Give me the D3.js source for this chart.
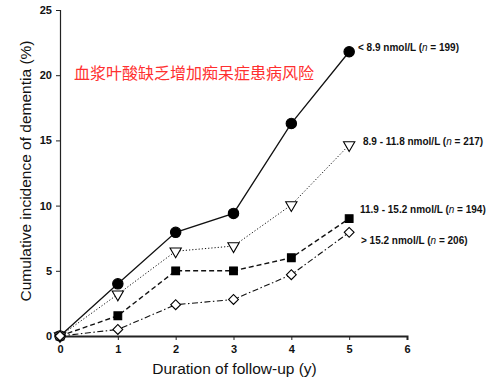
<!DOCTYPE html>
<html><head><meta charset="utf-8">
<script src="https://cdn.jsdelivr.net/npm/d3@7"></script>
<style>body{margin:0;background:#fff}svg{display:block}</style>
</head><body><svg id="c" width="500" height="383"></svg>
<script>
const years = [0, 1, 2, 3, 4, 5];
const xTicks = [0, 1, 2, 3, 4, 5, 6];
const yTicks = [0, 5, 10, 15, 20, 25];
const group1 = [0, 4.0, 7.95, 9.4, 16.3, 21.8];
const group2 = [0, 3.2, 6.5, 6.9, 10.05, 14.65];
const group3 = [0, 1.55, 5.0, 5.0, 6.0, 9.0];
const group4 = [0, 0.5, 2.4, 2.8, 4.7, 7.95];
const labelsMain = ["< 8.9 nmol/L (", "8.9 - 11.8 nmol/L (", "11.9 - 15.2 nmol/L (", "> 15.2 nmol/L ("];
const labelsN = ["199", "217", "194", "206"];
const title = "血浆叶酸缺乏增加痴呆症患病风险";

const svg = d3.select("#c");
const x = d3.scaleLinear().domain([0, 6]).range([60, 407]);
const y = d3.scaleLinear().domain([0, 25]).range([336, 10]);
const font = "Arial, 'Liberation Sans', sans-serif";

// axes
const xa = svg.append("g").attr("transform", `translate(0,${y(0)})`)
  .call(d3.axisBottom(x).tickValues(xTicks).tickSize(4).tickPadding(5).tickFormat(d3.format("d")));
xa.select(".domain").attr("stroke-width", 2);
const ya = svg.append("g").attr("transform", `translate(${x(0)},0)`)
  .call(d3.axisLeft(y).tickValues(yTicks).tickSize(4).tickPadding(4).tickFormat(d3.format("d")));
[xa, ya].forEach(a => {
  a.selectAll("text").attr("font-family", font).attr("font-size", 11).attr("font-weight", "bold").attr("fill", "#111");
  a.selectAll("line").attr("stroke", "#222");
  a.select(".domain").attr("stroke", "#222");
});
ya.select(".domain").attr("stroke-width", 1.2);

// axis titles
svg.append("text").attr("x", x(3) + 1).attr("y", 374).attr("text-anchor", "middle")
  .attr("font-family", font).attr("font-size", 15.5).attr("fill", "#111").text("Duration of follow-up (y)");
svg.append("text").attr("transform", `translate(31,171) rotate(-90)`).attr("text-anchor", "middle")
  .attr("font-family", font).attr("font-size", 15.5).attr("fill", "#111").text("Cumulative incidence of dementia (%)");

// series
const series = [
  {v: group1, dash: null, w: 1.3, marker: "circle"},
  {v: group2, dash: "1.2,2", w: 1, marker: "triangle"},
  {v: group3, dash: "5,3", w: 1.4, marker: "square"},
  {v: group4, dash: "6,2.5,1.5,2.5", w: 1.1, marker: "diamond"}
];
const line = d3.line().x((d, i) => x(years[i])).y(d => y(d));
series.forEach(s => {
  const p = svg.append("path").datum(s.v).attr("d", line).attr("fill", "none")
    .attr("stroke", "#111").attr("stroke-width", s.w);
  if (s.dash) p.attr("stroke-dasharray", s.dash);
});
const sym = {
  circle: d3.symbol().type(d3.symbolCircle).size(85),
  triangle: d3.symbol().type(d3.symbolTriangle).size(55),
  square: d3.symbol().type(d3.symbolSquare).size(60),
  diamond: d3.symbol().type(d3.symbolSquare).size(48)
};
series.forEach(s => {
  const g = svg.append("g");
  s.v.forEach((d, i) => {
    let t = `translate(${x(years[i])},${y(d)})`;
    let fill = "#000", stroke = "#000";
    if (s.marker === "triangle") { t += " rotate(180)"; fill = "#fff"; }
    if (s.marker === "diamond") { t += " rotate(45)"; fill = "#fff"; }
    if (i === 0) fill = "#fff";
    g.append("path").attr("d", sym[s.marker]()).attr("transform", t)
      .attr("fill", fill).attr("stroke", stroke).attr("stroke-width", 1.1);
  });
});

// series labels
const labelPos = [[358, 51], [363, 145], [360, 213], [361, 244]];
labelsMain.forEach((t, i) => {
  const tx = svg.append("text").attr("x", labelPos[i][0]).attr("y", labelPos[i][1])
    .attr("font-family", font).attr("font-size", 10).attr("font-weight", "bold").attr("fill", "#111");
  tx.append("tspan").text(t);
  tx.append("tspan").attr("font-style", "italic").attr("font-weight", "normal").text("n");
  tx.append("tspan").text(" = " + labelsN[i] + ")");
});

// red title
svg.append("text").attr("x", 74).attr("y", 79)
  .attr("font-family", "'Noto Sans CJK SC', sans-serif").attr("font-size", 16).attr("fill", "#ff3030").text(title);
</script></body></html>
